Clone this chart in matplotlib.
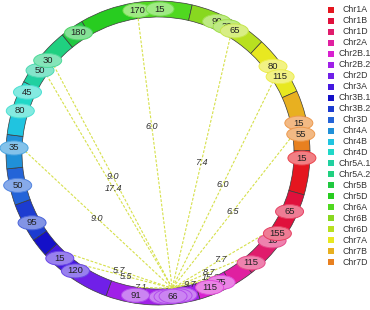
import numpy as np
import matplotlib
matplotlib.use('Agg')
import matplotlib.pyplot as plt
from matplotlib.patches import Wedge, Ellipse, Rectangle
from matplotlib.colors import to_rgb

plt.rcParams['font.family'] = ['Liberation Sans', 'DejaVu Sans']

# chromosomes around the ring (clockwise from 3 o'clock), span in degrees
chroms = ['Chr1A', 'Chr1B', 'Chr1D', 'Chr2A', 'Chr2B.1', 'Chr2B.2', 'Chr2D',
          'Chr3A', 'Chr3B.1', 'Chr3B.2', 'Chr3D', 'Chr4A', 'Chr4B', 'Chr4D',
          'Chr5A.1', 'Chr5A.2', 'Chr5B', 'Chr5D', 'Chr6A', 'Chr6B', 'Chr6D',
          'Chr7A', 'Chr7B', 'Chr7D']
spans = [17, 20, 16, 9, 13, 36, 14, 14, 7, 15, 14, 13, 10, 11, 11, 12, 9, 21,
         22, 16, 14, 23, 10, 13]
colors = ['#e5161f', '#e0103c', '#e01c6c', '#e020a0', '#d820d0', '#a020e8',
          '#7020e8', '#4418e0', '#1410c8', '#1c3cd0', '#2464d8', '#2090d8',
          '#20c4e0', '#20d8c8', '#20d0a0', '#20d080', '#20c840', '#28cc20',
          '#50d820', '#88d820', '#b8e020', '#e8e820', '#e8b020', '#e88020']
start_angle = -1

# markers on the ring: position (degrees) and value
# (the hub is a stack of markers; only the top one shows its value)
mark_angles = [2, 24, 37.6, 34, 49.7, 64, 69, 80, 88, 82, 86, 84, 99, 133,
               125, 151, 167, 182, 197, 205, 215, 220, 236.5, 261.6, 270.8,
               294, 298.7, 302, 323, 328, 348, 352.5]
mark_values = ['15', '65', '10', '155', '115', '75', '115', '', '', '',
               '', '66', '91', '15', '120', '95', '50', '35', '80', '45',
               '50', '30', '180', '170', '15', '90', '30', '65', '80', '115',
               '15', '55']

# links: all go to the hub marker
hub_angle = 84
link_from = [261.6, 302, 328, 352.5, 35, 49.7, 64, 69, 220, 215, 182, 133,
             125, 99]
link_labels = ['6.0', '7.4', '6.0', '6.5', '7.7', '8.7', '15.6', '9.7', '9.0',
               '17.4', '9.0', '5.7', '5.5', '7.1']
link_frac = [0.4, 0.5, 0.5, 0.5, 0.5, 0.5, 0.15, 0.5, 0.5, 0.53, 0.5, 0.5,
             0.5, 0.1]

cx, cy = 158, 153
r_out, ring_w = 152, 16
r_mid = r_out - ring_w / 2
r_in = r_out - ring_w


def pt(a, r):
    t = np.radians(a)
    return cx + r * np.cos(t), cy + r * np.sin(t)


def lighten(c, f):
    c = np.array(to_rgb(c))
    return tuple(c + (1 - c) * f)


fig = plt.figure(figsize=(3.7, 3.1), dpi=100)
ax = fig.add_axes([0, 0, 1, 1])
ax.set_xlim(0, 370)
ax.set_ylim(310, 0)
ax.axis('off')

bounds = start_angle + np.concatenate([[0], np.cumsum(spans)])
for i in range(len(chroms)):
    ax.add_patch(Wedge((cx, cy), r_out, bounds[i], bounds[i + 1], width=ring_w,
                       facecolor=colors[i], edgecolor='#3a3a3a', lw=0.5, zorder=1))


def seg_color(a):
    a = (a - start_angle) % 360
    idx = np.searchsorted(np.cumsum(spans), a, side='right')
    return colors[min(idx, len(colors) - 1)]


# links
hx, hy = pt(hub_angle, r_in)
for a, lab, f in zip(link_from, link_labels, link_frac):
    x0, y0 = pt(a, r_in)
    ax.plot([x0, hx], [y0, hy], color='#d6e04a', lw=0.8, ls=(0, (2.5, 1.5)),
            zorder=2)
    ax.text(x0 + (hx - x0) * f, y0 + (hy - y0) * f, lab, fontsize=6.5,
            style='italic', color='#333333', ha='center', va='center', zorder=3)

# markers (later ones drawn on top of earlier ones)
for k, (a, v) in enumerate(zip(mark_angles, mark_values)):
    x, y = pt(a, r_mid)
    c = seg_color(a)
    z = 4 + 2 * k
    ax.add_patch(Ellipse((x, y), 28, 14, facecolor=lighten(c, 0.45),
                         edgecolor=lighten(c, 0.2), lw=0.7, zorder=z))
    if v:
        ax.text(x, y, v, fontsize=6.8, color='#222222', ha='center',
                va='center', zorder=z + 1)

# legend
for i, (name, c) in enumerate(zip(chroms, colors)):
    ly = 10 + i * 10.96
    ax.add_patch(Rectangle((328, ly - 3), 6, 6, facecolor=c, edgecolor='none'))
    ax.text(355, ly, name, fontsize=6.3, color='#333333', ha='center',
            va='center')

fig.savefig('out.png', dpi=100)
